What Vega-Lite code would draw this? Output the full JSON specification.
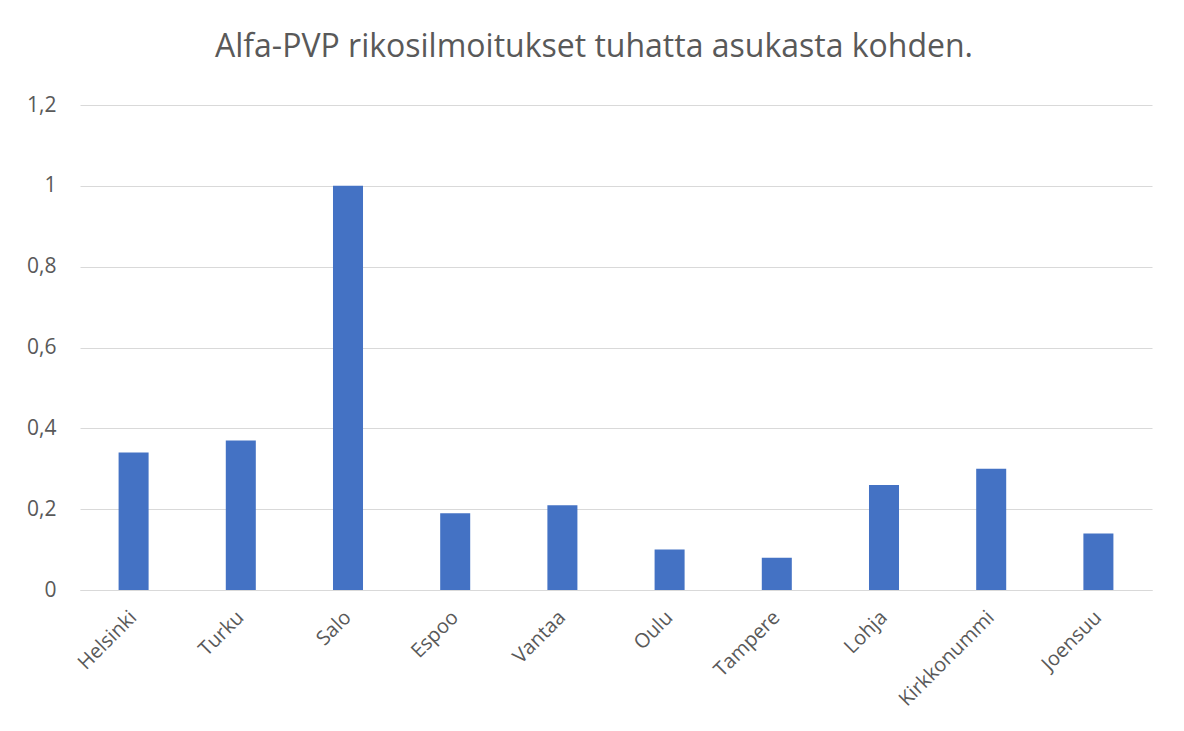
{
  "$schema": "https://vega.github.io/schema/vega-lite/v6.json",
  "width": 1072,
  "height": 485,
  "autosize": {"type": "none"},
  "padding": {"left": 80, "top": 105, "right": 32, "bottom": 141},
  "background": "white",
  "title": {
    "text": "Alfa-PVP rikosilmoitukset tuhatta asukasta kohden.",
    "anchor": "middle",
    "frame": "group",
    "fontSize": 32,
    "font": "Open Sans",
    "fontWeight": "normal",
    "color": "#595959",
    "offset": 30,
    "dx": -22
  },
  "data": {
    "values": [
      {"kunta": "Helsinki", "arvo": 0.34},
      {"kunta": "Turku", "arvo": 0.37},
      {"kunta": "Salo", "arvo": 1.0},
      {"kunta": "Espoo", "arvo": 0.19},
      {"kunta": "Vantaa", "arvo": 0.21},
      {"kunta": "Oulu", "arvo": 0.10},
      {"kunta": "Tampere", "arvo": 0.08},
      {"kunta": "Lohja", "arvo": 0.26},
      {"kunta": "Kirkkonummi", "arvo": 0.30},
      {"kunta": "Joensuu", "arvo": 0.14}
    ]
  },
  "mark": {"type": "bar", "color": "#4472C4"},
  "encoding": {
    "x": {
      "field": "kunta",
      "type": "nominal",
      "sort": null,
      "title": null,
      "scale": {"paddingInner": 0.72, "paddingOuter": 0.36},
      "axis": {
        "labelAngle": -45,
        "labelAlign": "right",
        "labelBaseline": "middle",
        "labelFontSize": 20,
        "labelFont": "Open Sans",
        "labelColor": "#595959",
        "labelPadding": 24,
        "ticks": false,
        "domainColor": "#d9d9d9",
        "domainWidth": 1
      }
    },
    "y": {
      "field": "arvo",
      "type": "quantitative",
      "title": null,
      "scale": {"domain": [0, 1.2], "nice": false},
      "axis": {
        "values": [0, 0.2, 0.4, 0.6, 0.8, 1, 1.2],
        "labelExpr": "replace(format(datum.value, '~g'), '.', ',')",
        "labelFontSize": 21,
        "labelFont": "Open Sans",
        "labelColor": "#595959",
        "labelPadding": 24,
        "ticks": false,
        "domain": false,
        "gridColor": "#d9d9d9",
        "gridWidth": 1
      }
    }
  },
  "config": {"view": {"stroke": null}}
}
